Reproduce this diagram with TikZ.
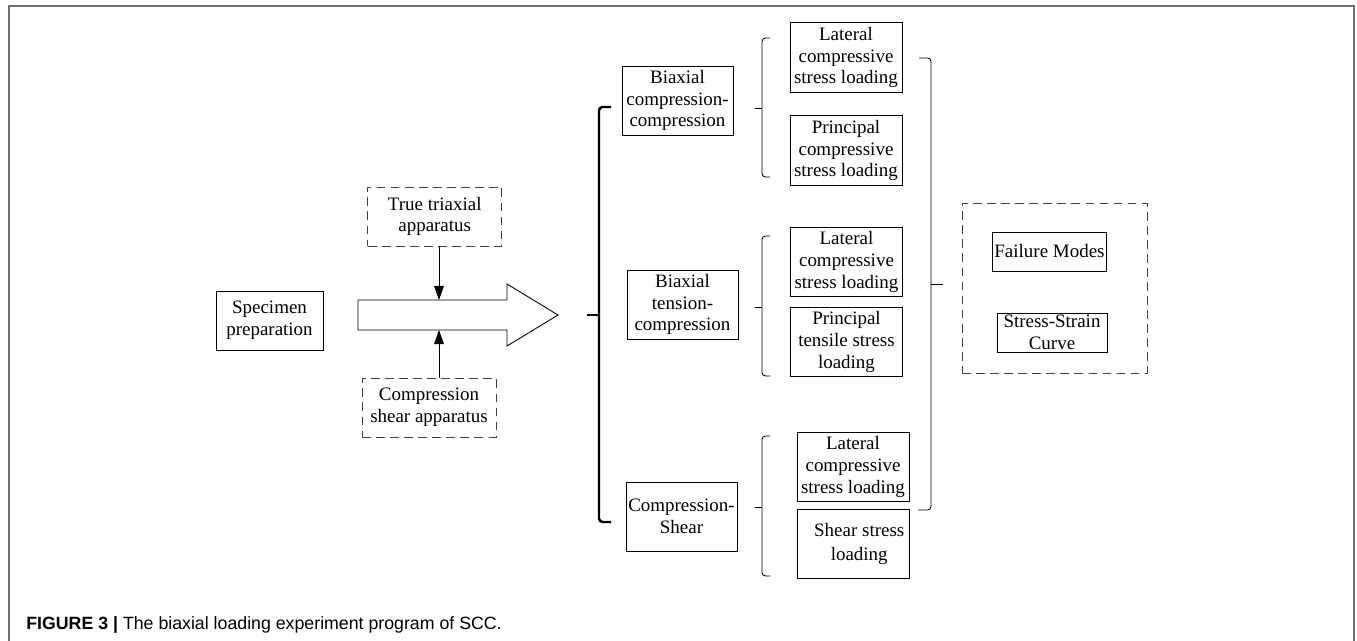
\documentclass[tikz,border=0pt]{standalone}
\usepackage{fontspec}
\setmainfont{Liberation Serif}
\newfontfamily\captionfont{Liberation Sans}
\usepackage{tikz}
\usetikzlibrary{arrows.meta, positioning, calc}
\usepackage{xcolor}
\definecolor{FrameGray}{HTML}{707070}
\definecolor{DashGray}{HTML}{404040}
\definecolor{InkBlack}{HTML}{000000}
\tikzset{
    % Node styles - plain boxes with serif text
    specbox/.style={
        rectangle,
        draw=InkBlack,
        line width=0.5pt,
        minimum width=2.14cm,
        minimum height=1.18cm,
        align=center,
        inner sep=1pt,
        font=\fontsize{10.8}{12.3}\selectfont
    },
    stagebox/.style={
        specbox,
        minimum width=2.22cm,
        minimum height=1.38cm
    },
    loadbox/.style={
        specbox,
        minimum width=2.24cm,
        minimum height=1.39cm
    },
    outbox/.style={
        specbox,
        minimum width=2.2cm,
        minimum height=0.78cm
    },
    devicebox/.style={
        specbox,
        draw=DashGray,
        dash pattern=on 5pt off 3pt,
        minimum width=2.68cm,
        minimum height=1.18cm
    },
    groupbox/.style={
        rectangle,
        draw=DashGray,
        line width=0.5pt,
        dash pattern=on 5pt off 3pt,
        minimum width=3.7cm,
        minimum height=3.4cm
    },
    % Arrow styles
    myarrow/.style={
        -{Triangle[length=8pt,width=5.5pt]},
        line width=0.5pt,
        InkBlack
    },
    % Bracket styles
    bigbrace/.style={
        draw=InkBlack,
        line width=1.4pt,
        rounded corners=2pt
    },
    smallbrace/.style={
        draw=InkBlack,
        line width=0.5pt,
        rounded corners=2pt
    },
    framebar/.style={
        draw=FrameGray,
        line width=1.1pt
    }
}

\begin{document}
\begin{tikzpicture}[x=0.02cm, y=-0.02cm]
    \useasboundingbox (0,0) rectangle (1357,641);

    % Figure frame (open at the bottom)
    \draw[framebar] (9,641) -- (9,6) -- (1354,6) -- (1354,641);

    % Specimen and apparatus
    \node[specbox] (spec) at (269.5,320.5) {Specimen\\preparation};
    \node[devicebox] (triax) at (434.7,216.5) {True triaxial\\apparatus};
    \node[devicebox] (shearapp) at (429,407.5) {Compression\\shear apparatus};

    % Hollow flow arrow
    \draw[line width=0.5pt] (358,300) -- (507,300) -- (507,284) -- (558,315)
        -- (507,346) -- (507,330) -- (358,330) -- cycle;
    \coordinate (flowtop) at (439,300);
    \coordinate (flowbot) at (439,330);
    \draw[myarrow] (triax.south -| flowtop) -- (flowtop);
    \draw[myarrow] (shearapp.north -| flowbot) -- (flowbot);

    % Loading stages
    \node[stagebox] (bcc) at (677.5,100.5) {Biaxial\\compression-\\compression};
    \node[stagebox] (btc) at (682.5,304.5) {Biaxial\\tension-\\compression};
    \node[stagebox] (cs) at (681.5,516.5) {Compression-\\Shear};

    % Loading paths
    \node[loadbox] (lat1) at (846,57.5) {Lateral\\compressive\\stress loading};
    \node[loadbox] (pcomp) at (846,150.5) {Principal\\compressive\\stress loading};
    \node[loadbox] (lat2) at (846.5,262) {Lateral\\compressive\\stress loading};
    \node[loadbox] (ptens) at (846.5,342) {Principal\\tensile stress\\loading};
    \node[loadbox] (lat3) at (853,467) {Lateral\\compressive\\stress loading};
    \node[loadbox] (shear) at (853,544) {\hspace*{0.25cm}Shear stress\\[1pt]\hspace*{0.25cm}loading};

    % Results
    \node[groupbox] (result) at (1054.5,288) {};
    \node[outbox] (fail) at (1049.5,251.5) {Failure Modes};
    \node[outbox] (curve) at (1052,332.5) {Stress-Strain\\Curve};

    % Brackets
    \draw[bigbrace] (611,107) -- (599,107) -- (599,522) -- (611,522);
    \draw[bigbrace, rounded corners=0pt] (599,315) -- (587,315);
    \draw[smallbrace] (770,38) -- (762,38) -- (762,177) -- (770,177);
    \draw[smallbrace] (762,108) -- (755,108);
    \draw[smallbrace] (770,236) -- (762,236) -- (762,376) -- (770,376);
    \draw[smallbrace] (762,307) -- (755,307);
    \draw[smallbrace] (770,436) -- (762,436) -- (762,576) -- (770,576);
    \draw[smallbrace] (762,507) -- (755,507);
    \draw[smallbrace] (919,58) -- (931,58) -- (931,510) -- (918,510);
    \draw[smallbrace] (931,284) -- (943,284);

    % Caption
    \node[anchor=base west, inner sep=0pt, font=\captionfont\fontsize{10.1}{12}\selectfont] (caption) at (26,630)
        {\textbf{FIGURE 3 |} The biaxial loading experiment program of SCC.};
\end{tikzpicture}
\end{document}
